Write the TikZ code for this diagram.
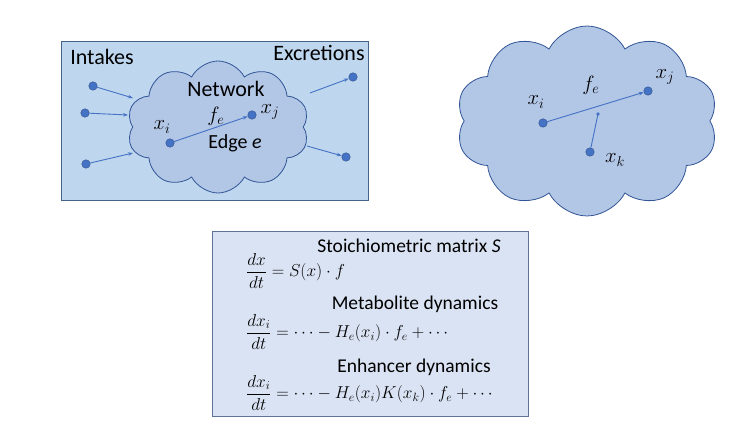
\documentclass[tikz,border=0pt]{standalone}
\usepackage{fontspec}
\setmainfont{Carlito}
\usetikzlibrary{shapes.symbols,arrows.meta}
\definecolor{boxfill}{RGB}{190,214,238}
\definecolor{boxline}{RGB}{70,100,135}
\definecolor{cloudfill}{RGB}{178,198,230}
\definecolor{cloudline}{RGB}{50,85,150}
\definecolor{dotc}{RGB}{68,114,196}
\definecolor{eqfill}{RGB}{218,227,243}
\definecolor{eqline}{RGB}{95,115,150}
\tikzset{
  mycloud/.style={cloud, cloud puffs=10, cloud puff arc=125, draw=cloudline, fill=cloudfill, line width=0.8pt, inner sep=0pt},
  dotn/.style={circle, fill=dotc, draw=dotc!70!black, line width=0.4pt, minimum size=8.5pt, inner sep=0pt},
  arr/.style={-{Stealth[length=5pt,width=3.5pt]}, dotc, line width=0.9pt},
  big/.style={font=\fontsize{22}{26}\selectfont},
  mid/.style={font=\fontsize{20}{24}\selectfont},
  eqt/.style={font=\fontsize{19.5}{23}\selectfont, inner sep=1pt},
  eqm/.style={font=\fontsize{18.7}{22}\selectfont, anchor=west, inner sep=0pt},
}
\begin{document}
\begin{tikzpicture}[x=1pt,y=-1pt]
\useasboundingbox (0,0) rectangle (740,433);
% left panel
\node[draw=boxline, fill=boxfill, line width=0.8pt, minimum width=307pt, minimum height=159pt, inner sep=0pt] (lbox) at (215,120.5) {};
\node[mycloud, minimum width=182pt, minimum height=132pt] (lcloud) at (218,127) {};
\node[big] (intk) at (102,57) {Intakes};
\node[big] (excr) at (319,53) {Excretions};
\node[big, inner sep=0pt] (net) at (226,89) {Network};
\node[mid] (edge) at (235,143) {Edge \textit{e}};
\node[dotn] (a1) at (93,86) {};
\node[dotn] (a2) at (85,113) {};
\node[dotn] (a3) at (86,164) {};
\coordinate (a1e) at (133,98);
\coordinate (a2e) at (128,115);
\coordinate (a3e) at (133,153);
\draw[arr] (a1) -- (a1e);
\draw[arr] (a2) -- (a2e);
\draw[arr] (a3) -- (a3e);
\node[dotn] (b1) at (353,77) {};
\node[dotn] (b2) at (346,157) {};
\coordinate (b1s) at (310,93);
\coordinate (b2s) at (307,146);
\draw[arr] (b1s) -- (b1);
\draw[arr] (b2s) -- (b2);
\node[dotn] (li) at (170,143) {};
\node[dotn] (lj) at (252,115) {};
\draw[arr] (li) -- (lj);
\node[mid] (lxi) at (162,127) {$x_i$};
\node[mid, inner sep=0pt] (lxj) at (270,112) {$x_j$};
\node[mid] (lfe) at (216,116) {$f_e$};
% right cloud
\node[mycloud, minimum width=262pt, minimum height=190pt] (rcloud) at (587,121) {};
\node[dotn] (ri) at (543,123) {};
\node[dotn] (rj) at (648,91) {};
\node[dotn] (rk) at (590,152) {};
\coordinate (rm) at (598,114);
\draw[arr] (ri) -- (rj);
\draw[dotc, line width=0.9pt] (rk) -- (rm);
\fill[dotc] (rm) circle (1.8pt);
\node[big] (rxi) at (536,102) {$x_i$};
\node[big] (rxj) at (665,77) {$x_j$};
\node[big] (rxk) at (615,160) {$x_k$};
\node[big] (rfe) at (591,85) {$f_e$};
% equations box
\node[draw=eqline, fill=eqfill, line width=0.8pt, minimum width=316pt, minimum height=185pt, inner sep=0pt] (ebox) at (370,323.5) {};
\node[eqt] (t1) at (409,246) {Stoichiometric matrix \textit{S}};
\node[eqm] (e1) at (246,271) {$\displaystyle \frac{dx}{dt} = S(x)\cdot f$};
\node[eqt] (t2) at (415,304) {Metabolite dynamics};
\node[eqm] (e2) at (246,332) {$\displaystyle \frac{dx_i}{dt} = \cdots - H_e(x_i)\cdot f_e + \cdots$};
\node[eqt] (t3) at (414,367) {Enhancer dynamics};
\node[eqm] (e3) at (246,393) {$\displaystyle \frac{dx_i}{dt} = \cdots - H_e(x_i)K(x_k)\cdot f_e + \cdots$};
\end{tikzpicture}
\end{document}
